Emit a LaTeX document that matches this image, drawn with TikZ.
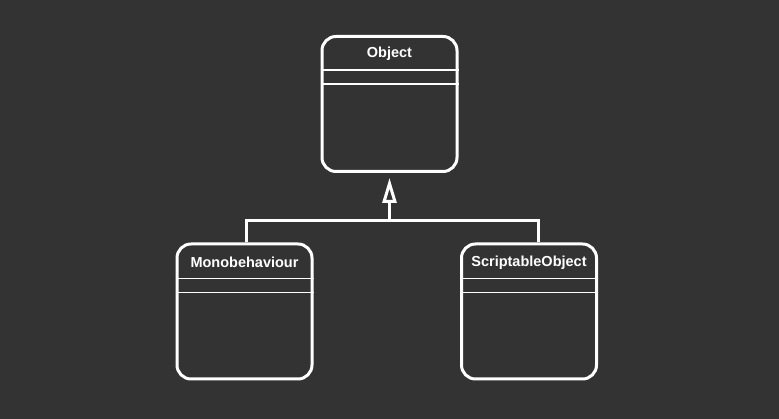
\documentclass[tikz,border=0pt]{standalone}
\usepackage{fontspec}
\setmainfont{Liberation Sans}
\usetikzlibrary{arrows.meta,positioning}
\definecolor{bgdark}{HTML}{333333}

\tikzset{
  classbox/.style={draw=white, line width=3pt, rounded corners=14pt,
    minimum width=135pt, minimum height=135pt, inner sep=0pt},
  classname/.style={text=white, font=\fontsize{14.5}{16}\selectfont\bfseries, inner sep=0pt},
  divider/.style={draw=white, line width=1.8pt},
  link/.style={draw=white, line width=3pt}
}

\begin{document}
\begin{tikzpicture}[x=1pt, y=-1pt]
% Hintergrund
\fill[bgdark] (0,0) rectangle (779,419);
\useasboundingbox (0,0) rectangle (779,419);

% Klassen
\node[classbox] (object) at (389.5,104) {};
\node[classbox] (mono) at (244.5,311.5) {};
\node[classbox] (script) at (529,311.5) {};

% Namen
\node[classname, below=18.5pt of object.north, anchor=center] (objectname) {Object};
\node[classname, below=20pt of mono.north, anchor=center] (mononame) {Monobehaviour};
\node[classname, below=20pt of script.north, anchor=center] (scriptname) {ScriptableObject};

% Trennlinien
\foreach \cls/\upper/\lower in {object/35/49, mono/36/50, script/36/50} {
  \draw[divider] ([yshift=-\upper pt]\cls.north west) -- ([yshift=-\upper pt]\cls.north east);
  \draw[divider] ([yshift=-\lower pt]\cls.north west) -- ([yshift=-\lower pt]\cls.north east);
}

% Vererbung
\coordinate (join) at (389.5,221);
\draw[link] ([xshift=1.5pt]mono.north) |- (join) -| ([xshift=9.5pt]script.north);
\draw[link, -{Triangle[open, length=25pt, width=14pt]}, shorten >=5pt] (join) -- (object.south);

\end{tikzpicture}
\end{document}
